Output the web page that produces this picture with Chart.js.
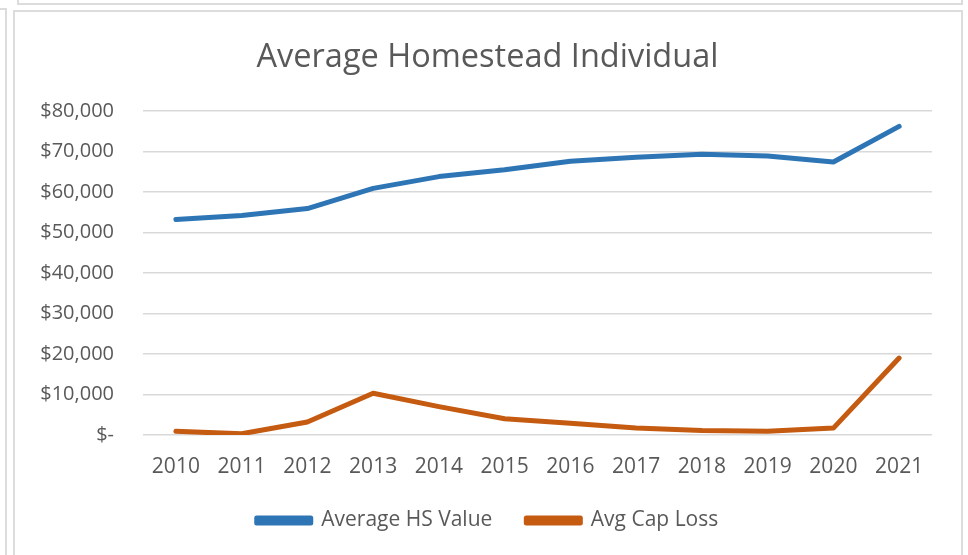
<!DOCTYPE html>
<html>
<head>
<meta charset="utf-8">
<script src="https://cdn.jsdelivr.net/npm/chart.js@4"></script>
<style>
  body { margin: 0; background: #fff; width: 968px; height: 555px; overflow: hidden; position: relative; }
  .box { position: absolute; border: 2px solid #dcdcdc; box-sizing: border-box; }
  #frame { left: 13px; top: 10px; width: 950px; height: 560px; }
  #topbox { left: 17px; top: -10px; width: 946px; height: 15px; }
  #leftbox { left: -10px; top: 8px; width: 17px; height: 560px; }
  #myChart { position: absolute; left: 15px; top: 12px; }
</style>
</head>
<body>
<div class="box" id="topbox"></div>
<div class="box" id="leftbox"></div>
<div class="box" id="frame"></div>
<canvas id="myChart" width="945" height="543"></canvas>
<script>
var years = ['2010','2011','2012','2013','2014','2015','2016','2017','2018','2019','2020','2021'];
var avgHsValue = [53200, 54200, 55900, 60900, 63800, 65500, 67600, 68600, 69300, 68900, 67400, 76200];
var avgCapLoss = [900, 300, 3200, 10300, 7000, 4000, 2900, 1700, 1100, 900, 1700, 19000];
var yTicks = [0, 10000, 20000, 30000, 40000, 50000, 60000, 70000, 80000];

var grey = '#595959';
var fontName = "'Open Sans', sans-serif";

var ctx = document.getElementById('myChart').getContext('2d');

var myChart = new Chart(ctx, {
    type: 'line',
    data: {
        labels: years,
        datasets: [{
            label: 'Average HS Value',
            data: avgHsValue,
            borderColor: '#2E75B6',
            backgroundColor: '#2E75B6',
            borderWidth: 5,
            pointRadius: 0,
            tension: 0,
            borderCapStyle: 'round',
            borderJoinStyle: 'round'
        }, {
            label: 'Avg Cap Loss',
            data: avgCapLoss,
            borderColor: '#C55A11',
            backgroundColor: '#C55A11',
            borderWidth: 5,
            pointRadius: 0,
            tension: 0,
            borderCapStyle: 'round',
            borderJoinStyle: 'round'
        }]
    },
    options: {
        responsive: false,
        animation: false,
        layout: { padding: { left: 0, right: 0, top: 0, bottom: 14 } },
        plugins: {
            title: {
                display: true,
                text: 'Average Homestead Individual',
                color: grey,
                font: { family: fontName, size: 32.5, weight: 'normal' },
                padding: { top: 26, bottom: 34 }
            },
            legend: {
                position: 'bottom',
                labels: {
                    color: grey,
                    font: { family: fontName, size: 21 },
                    boxWidth: 54,
                    boxHeight: 5,
                    padding: 34
                }
            },
            tooltip: { enabled: false }
        },
        scales: {
            x: {
                offset: true,
                grid: { display: false, drawTicks: false },
                border: { display: false },
                ticks: { color: grey, font: { family: fontName, size: 21 }, padding: 19.5, maxRotation: 0 },
                afterFit: function (scale) { scale.height = 41; }
            },
            y: {
                min: 0,
                max: 80000,
                afterBuildTicks: function (scale) {
                    scale.ticks = yTicks.map(function (v) { return { value: v }; });
                },
                grid: { color: '#d9d9d9', lineWidth: 1.5, drawTicks: false },
                border: { display: false },
                ticks: {
                    color: grey,
                    font: { family: fontName, size: 20 },
                    padding: 29,
                    callback: function (v) {
                        return v === 0 ? '$-' : '$' + v.toLocaleString('en-US');
                    }
                },
                afterFit: function (scale) { scale.width = 128; }
            },
            // empty right axis only keeps a margin so title and legend stay centred on the canvas
            yRight: {
                position: 'right',
                grid: { display: false, drawTicks: false },
                border: { display: false },
                ticks: { display: false },
                afterFit: function (scale) { scale.width = 28; }
            }
        }
    }
});
</script>
</body>
</html>
